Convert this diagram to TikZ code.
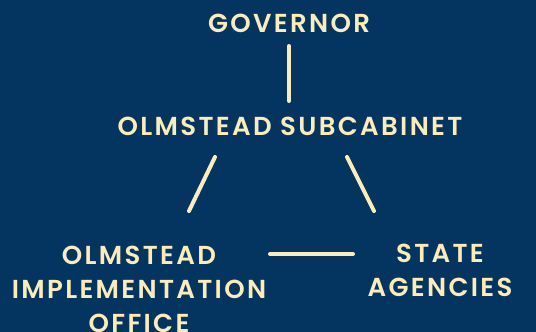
\documentclass[tikz,border=0pt]{standalone}
\usepackage{fontspec}
\setmainfont{Poppins}[LetterSpace=9, BoldFont={Poppins SemiBold}]
\usetikzlibrary{calc}
\definecolor{navy}{RGB}{3,53,96}
\definecolor{cream}{RGB}{252,236,184}
\tikzset{
  lbl/.style={text=cream, font=\bfseries\fontsize{26}{34}\selectfont, align=center, inner sep=0pt},
  conn/.style={draw=cream, line width=4pt, line cap=round}
}
\begin{document}
\begin{tikzpicture}[x=1pt,y=-1pt]
\fill[navy] (0,0) rectangle (536,332);
\useasboundingbox (0,0) rectangle (536,332);
\node[lbl] (gov) at (289,23) {GOVERNOR};
\node[lbl] (sub) at (290,126) {OLMSTEAD SUBCABINET};
\node[lbl] (impl) at (139,289) {OLMSTEAD\\IMPLEMENTATION\\OFFICE};
\node[lbl] (agen) at (440,270) {STATE\\AGENCIES};
\draw[conn] ($(gov.center)+(0,23)$) -- ($(sub.center)+(-1,-25)$);
\draw[conn] ($(sub.center)+(-75,31)$) -- ($(impl.center)+(50,-78)$);
\draw[conn] ($(sub.center)+(57,31)$) -- ($(agen.center)+(-66,-59)$);
\draw[conn] ($(impl.center)+(131,-35)$) -- ($(agen.center)+(-87,-16)$);
\end{tikzpicture}
\end{document}
